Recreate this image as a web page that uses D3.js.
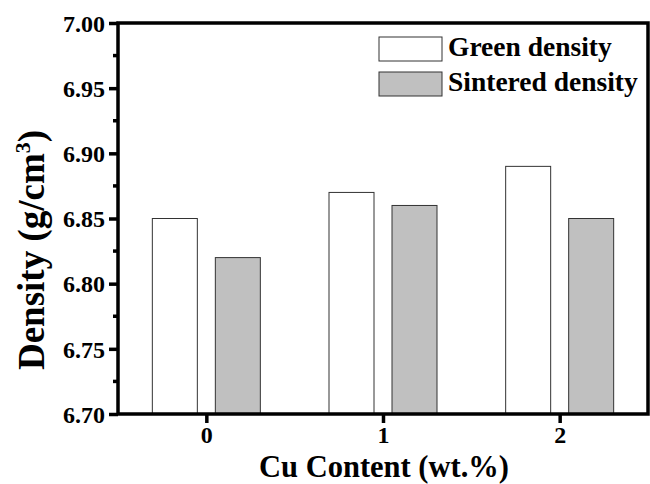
<!DOCTYPE html>
<html>
<head>
<meta charset="utf-8">
<script src="https://cdn.jsdelivr.net/npm/d3@7"></script>
<style>
  body { margin: 0; background: #fff; }
</style>
</head>
<body>
<svg id="chart" width="650" height="484"></svg>
<script>
// ── Data ──
const cuContent = [0, 1, 2];
const greenDensity = [6.85, 6.87, 6.89];
const sinteredDensity = [6.82, 6.86, 6.85];
const seriesNames = ["Green density", "Sintered density"];
const seriesFills = ["#ffffff", "#c0c0c0"];
const yTicks = [6.70, 6.75, 6.80, 6.85, 6.90, 6.95, 7.00];

const FONT = "'Liberation Serif', 'Times New Roman', serif";

// ── Layout ──
const svg = d3.select("#chart");
const plotL = 118, plotR = 648, plotT = 23, plotB = 414;

const x = d3.scaleLinear().domain([-0.5, 2.5]).range([plotL, plotR]);
const y = d3.scaleLinear().domain([6.70, 7.00]).range([plotB, plotT]);

const barW = 45;
const offset = 31.5;

function txt(sel, size) {
  return sel.style("font-family", FONT).style("font-weight", "bold")
    .style("font-size", size + "px").attr("fill", "#000");
}

// Bars
const series = [greenDensity, sinteredDensity];
series.forEach((vals, si) => {
  svg.append("g")
    .selectAll("rect")
    .data(vals)
    .join("rect")
    .attr("x", (d, i) => x(cuContent[i]) + (si === 0 ? -offset : offset) - barW / 2)
    .attr("y", d => y(d))
    .attr("width", barW)
    .attr("height", d => plotB - y(d))
    .attr("fill", seriesFills[si])
    .attr("stroke", "#333")
    .attr("stroke-width", 1);
});

// Y axis (with minor ticks)
const yAxis = d3.axisLeft(y).tickValues(yTicks).tickFormat(d3.format(".2f")).tickSize(9).tickPadding(4);
const gy = svg.append("g").attr("transform", `translate(${plotL},0)`).call(yAxis);
gy.select(".domain").remove();
gy.selectAll(".tick line").attr("stroke-width", 3.5);
txt(gy.selectAll("text"), 24).attr("dy", "0.34em");
const minor = d3.range(0, yTicks.length - 1).map(i => (yTicks[i] + yTicks[i + 1]) / 2);
svg.append("g").selectAll("line").data(minor).join("line")
  .attr("x1", plotL - 5).attr("x2", plotL)
  .attr("y1", d => y(d)).attr("y2", d => y(d))
  .attr("stroke", "#000").attr("stroke-width", 3.5);

// X axis
const xAxis = d3.axisBottom(x).tickValues(cuContent).tickFormat(d3.format("d")).tickSize(9).tickPadding(3);
const gx = svg.append("g").attr("transform", `translate(0,${plotB})`).call(xAxis);
gx.select(".domain").remove();
gx.selectAll(".tick line").attr("stroke-width", 3.5);
txt(gx.selectAll("text"), 24);

// Frame
svg.append("rect")
  .attr("x", plotL).attr("y", plotT)
  .attr("width", plotR - plotL).attr("height", plotB - plotT)
  .attr("fill", "none").attr("stroke", "#000").attr("stroke-width", 3.5);

// Legend
const legend = svg.append("g").attr("transform", "translate(379,37)");
seriesNames.forEach((name, i) => {
  const row = legend.append("g").attr("transform", `translate(0,${i * 35})`);
  row.append("rect").attr("width", 63).attr("height", 24)
    .attr("fill", seriesFills[i]).attr("stroke", "#333").attr("stroke-width", 1);
  txt(row.append("text").attr("x", 69).attr("y", 19), 27.5).text(name);
});

// Axis titles
txt(svg.append("text"), 30.5)
  .attr("x", (plotL + plotR) / 2 + 1).attr("y", 477)
  .attr("text-anchor", "middle")
  .text("Cu Content (wt.%)");

const yt = txt(svg.append("text"), 37)
  .attr("transform", "translate(44,250) rotate(-90)")
  .attr("text-anchor", "middle");
yt.append("tspan").text("Density (g/cm");
yt.append("tspan").attr("dy", -14).style("font-size", "22px").text("3");
yt.append("tspan").attr("dy", 14).text(")");
</script>
</body>
</html>
